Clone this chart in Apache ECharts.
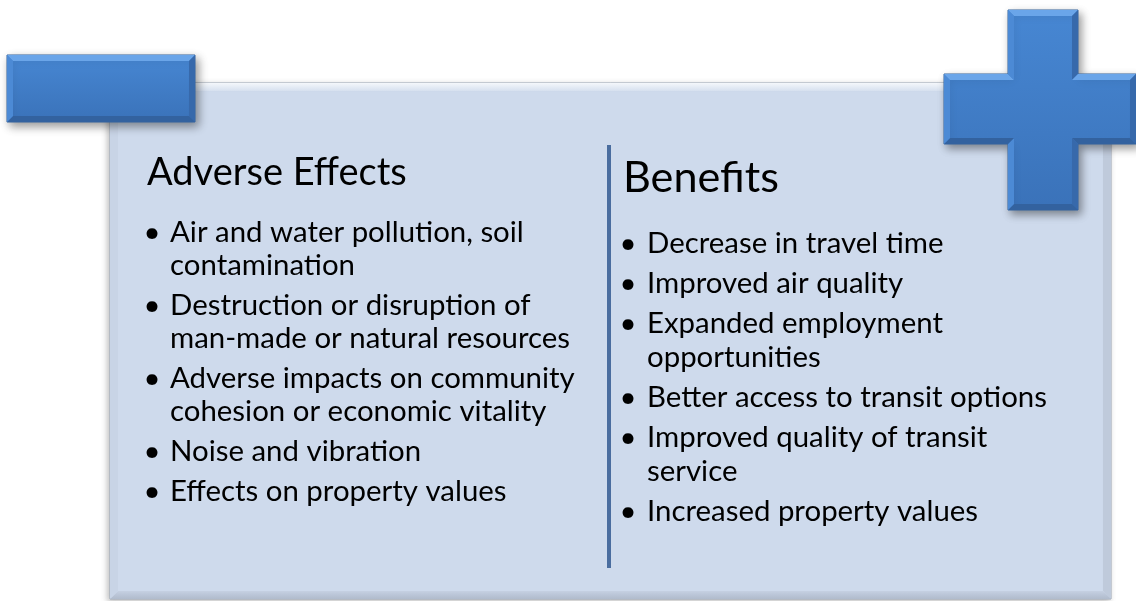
<!DOCTYPE html>
<html>
<head>
<meta charset="utf-8">
<title>Adverse Effects / Benefits</title>
<script src="https://cdn.jsdelivr.net/npm/echarts@6/dist/echarts.min.js"></script>
<style>
  html, body { margin: 0; padding: 0; background: #ffffff; }
  #chart { width: 1136px; height: 601px; }
</style>
</head>
<body>
<div id="chart"></div>
<script>
// content of the two columns, lines already broken as in the slide
const leftTitle = 'Adverse Effects'
const rightTitle = 'Benefits'
const adverseItems = [
  ['Air and water pollution, soil', 'contamination'],
  ['Destruction or disruption of', 'man-made or natural resources'],
  ['Adverse impacts on community', 'cohesion or economic vitality'],
  ['Noise and vibration'],
  ['Effects on property values']
]
const benefitItems = [
  ['Decrease in travel time'],
  ['Improved air quality'],
  ['Expanded employment', 'opportunities'],
  ['Better access to transit options'],
  ['Improved quality of transit', 'service'],
  ['Increased property values']
]

const FONT = 'Lato'
const chart = echarts.init(document.getElementById('chart'), null, { renderer: 'canvas' })

// pick a font size so that a given string has about the width it has in the slide
const measureCtx = document.createElement('canvas').getContext('2d')
function fitSize(text, targetWidth) {
  measureCtx.font = `100px ${FONT}`
  const w = measureCtx.measureText(text).width
  return Math.round(100 * targetWidth / w * 10) / 10
}
const bodySize = fitSize('Better access to transit options', 400)
const leftTitleSize = fitSize(leftTitle, 260)
const rightTitleSize = fitSize(rightTitle, 156)

// bevelled orthogonal shape: base polygon + four kinds of edge facets
function bevelShape(pts, b, look, z) {
  const n = pts.length
  const normals = []
  for (let i = 0; i < n; i++) {
    const p = pts[i], q = pts[(i + 1) % n]
    const len = Math.hypot(q[0] - p[0], q[1] - p[1])
    const dx = (q[0] - p[0]) / len, dy = (q[1] - p[1]) / len
    normals.push([-dy, dx])
  }
  const inner = pts.map((p, i) => {
    const a = normals[(i - 1 + n) % n], c = normals[i]
    return [p[0] + b * (a[0] + c[0]), p[1] + b * (a[1] + c[1])]
  })
  const els = [{
    type: 'polygon',
    z: z,
    shape: { points: pts },
    style: {
      fill: look.fill,
      stroke: look.stroke,
      lineWidth: 1,
      shadowBlur: look.shadowBlur,
      shadowOffsetX: look.shadowX,
      shadowOffsetY: look.shadowY,
      shadowColor: look.shadowColor
    }
  }]
  for (let i = 0; i < n; i++) {
    const nm = normals[i]
    let key = 'right'
    if (nm[1] > 0.5) key = 'top'
    else if (nm[1] < -0.5) key = 'bottom'
    else if (nm[0] > 0.5) key = 'left'
    els.push({
      type: 'polygon',
      z: z + 1,
      silent: true,
      shape: { points: [pts[i], pts[(i + 1) % n], inner[(i + 1) % n], inner[i]] },
      style: { fill: look[key] }
    })
  }
  return els
}

function rectPts(x, y, w, h) {
  return [[x, y], [x + w, y], [x + w, y + h], [x, y + h]]
}

const blueLook = {
  fill: new echarts.graphic.LinearGradient(0, 0, 0, 1, [
    { offset: 0, color: '#4787d3' },
    { offset: 1, color: '#3a72b9' }
  ]),
  stroke: '#34649f',
  shadowBlur: 9, shadowX: 3, shadowY: 4, shadowColor: 'rgba(0,0,0,0.4)',
  top: '#6aa5e9',
  left: '#4c8ad5',
  right: '#3769ab',
  bottom: '#33629f'
}

const panelLook = {
  fill: '#cedaec',
  stroke: '#9ba6b6',
  shadowBlur: 6, shadowX: -2, shadowY: 2, shadowColor: 'rgba(0,0,0,0.25)',
  top: new echarts.graphic.LinearGradient(0, 0, 0, 1, [
    { offset: 0, color: '#f4f7fb' },
    { offset: 1, color: '#d6e0ef' }
  ]),
  left: '#c8d4e6',
  right: '#bfcadb',
  bottom: new echarts.graphic.LinearGradient(0, 0, 0, 1, [
    { offset: 0, color: '#c5d0e2' },
    { offset: 1, color: '#b0bbcc' }
  ])
}

const crossPts = [
  [1008, 10], [1078, 10], [1078, 74], [1136, 74], [1136, 144], [1078, 144],
  [1078, 210], [1008, 210], [1008, 144], [944, 144], [944, 74], [1008, 74]
]

function columnTexts(title, titleSize, titleY, items, bulletX, textX, startY, wrapGap, paraGap) {
  const els = [{
    type: 'text', z: 20,
    x: bulletX - 5, y: titleY,
    style: { text: title, fontFamily: FONT, fontSize: titleSize, fill: '#000', textVerticalAlign: 'middle' }
  }]
  let y = startY
  items.forEach((lines, k) => {
    if (k > 0) y += paraGap
    els.push({
      type: 'text', z: 20, x: bulletX, y: y,
      style: { text: '•', fontFamily: FONT, fontSize: bodySize, fill: '#000', textAlign: 'center', textVerticalAlign: 'middle' }
    })
    lines.forEach((line, j) => {
      if (j > 0) y += wrapGap
      els.push({
        type: 'text', z: 20, x: textX, y: y,
        style: { text: line, fontFamily: FONT, fontSize: bodySize, fill: '#000', textVerticalAlign: 'middle' }
      })
    })
  })
  return els
}

const elements = [].concat(
  bevelShape(rectPts(110, 83, 1001, 516), 8, panelLook, 1),
  [{
    type: 'rect', z: 10,
    shape: { x: 607, y: 145, width: 4, height: 423 },
    style: { fill: '#4a6d9f' }
  }],
  columnTexts(leftTitle, leftTitleSize, 173, adverseItems, 152, 170, 233, 33, 40),
  columnTexts(rightTitle, rightTitleSize, 178, benefitItems, 628, 647, 244, 34, 40),
  bevelShape(rectPts(7, 55, 188, 67), 6, blueLook, 30),
  bevelShape(crossPts, 6, blueLook, 40)
)

chart.setOption({
  backgroundColor: '#ffffff',
  animation: false,
  graphic: { elements: elements }
})
</script>
</body>
</html>
